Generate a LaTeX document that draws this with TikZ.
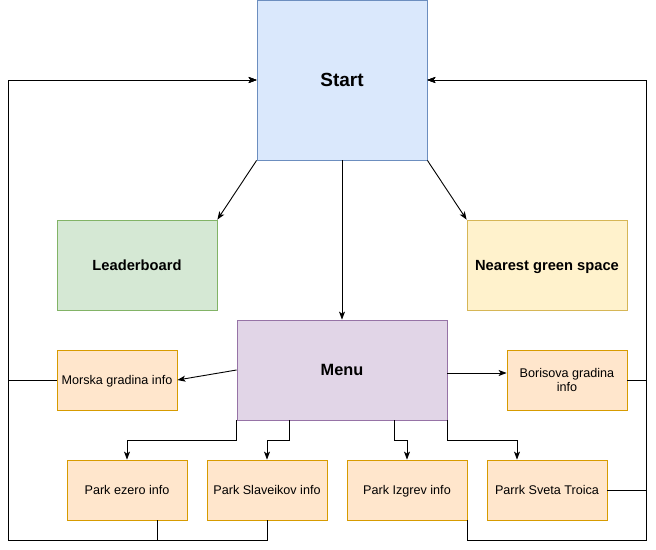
\documentclass[tikz,border=0pt]{standalone}
\usepackage{fontspec}
\setmainfont{Liberation Sans}
\usepackage{xcolor}
\usepackage{tikz}
\usetikzlibrary{arrows.meta,positioning,calc}
\definecolor{startbg}{HTML}{DAE8FC}
\definecolor{startrule}{HTML}{6C8EBF}
\definecolor{leadbg}{HTML}{D5E8D4}
\definecolor{leadrule}{HTML}{82B366}
\definecolor{nearbg}{HTML}{FFF2CC}
\definecolor{nearrule}{HTML}{D6B656}
\definecolor{menubg}{HTML}{E1D5E7}
\definecolor{menurule}{HTML}{9673A6}
\definecolor{parkbg}{HTML}{FFE6CC}
\definecolor{parkrule}{HTML}{D79B00}

\begin{document}
\begin{tikzpicture}[x=1pt,y=-1pt,
  box/.style={draw,rectangle,inner sep=2pt,align=center,line width=0.8pt},
  oneline/.style={text depth=0pt},
  park/.style={box,draw=parkrule,fill=parkbg,minimum width=120pt,minimum height=60pt,
               font=\fontsize{12.6}{14.5}\selectfont},
  arr/.style={-{Stealth[length=8pt,width=6pt,inset=2pt]},draw=black,line width=0.9pt}
]
\useasboundingbox (0,0) rectangle (656,549);
\node[box,oneline,draw=startrule,fill=startbg,minimum width=170pt,minimum height=160pt,
      font=\fontsize{19}{22}\selectfont\bfseries] (start) at (342,80) {Start};
\node[box,oneline,draw=leadrule,fill=leadbg,minimum width=160pt,minimum height=90pt,
      font=\fontsize{14.7}{17}\selectfont\bfseries] (lead) at (137,265) {Leaderboard};
\node[box,oneline,draw=nearrule,fill=nearbg,minimum width=160pt,minimum height=90pt,
      font=\fontsize{14.7}{17}\selectfont\bfseries] (near) at (547,265) {Nearest green space};
\node[box,oneline,draw=menurule,fill=menubg,minimum width=210pt,minimum height=100pt,
      font=\fontsize{16.3}{19}\selectfont\bfseries] (menu) at (342,370) {Menu};
\node[park,oneline] (morska) at (117,380) {Morska gradina info};
\node[park] (boris) at (567,380) {Borisova gradina\\info};
\node[park,oneline] (ezero) at (127,490) {Park ezero info};
\node[park,oneline,right=19.2pt of ezero] (slav) {Park Slaveikov info};
\node[park,oneline,right=19.2pt of slav] (izg) {Park Izgrev info};
\node[park,oneline,right=19.2pt of izg] (troica) {Parrk Sveta Troica};
\coordinate (lx) at (8,540);
\coordinate (rx) at (646,540);
\coordinate (bj) at ($(menu.east)+(0,3)$);
% from start
\draw[arr] (start.south west) -- (lead.north east);
\draw[arr] (start.south east) -- (near.north west);
\draw[arr] (start) -- (menu);
% from menu
\draw[arr] (menu.west) -- (morska.east);
\draw[arr] (bj) -- (bj -| boris.west);
\draw[arr] (menu.south west) -- ++(0,20) -| (ezero.north);
\draw[arr] ($(menu.south)+(-52.5,0)$) -- ++(0,20) -| (slav.north);
\draw[arr] ($(menu.south)+(52.5,0)$) -- ++(0,20) -| (izg.north);
\draw[arr] (menu.south east) -- ++(0,20) -| ($(troica.north)+(-30,0)$);
% back to start
\draw[arr] (morska.west) -- (morska.west -| lx) |- (start.west);
\draw[arr] ($(ezero.south)+(30,0)$) |- (lx) |- (start.west);
\draw[arr] (slav.south) |- (lx) |- (start.west);
\draw[arr] (boris.east) -- (boris.east -| rx) |- (start.east);
\draw[arr] (troica.east) -- (troica.east -| rx) |- (start.east);
\draw[arr] (izg.south east) |- (rx) |- (start.east);
\end{tikzpicture}
\end{document}
